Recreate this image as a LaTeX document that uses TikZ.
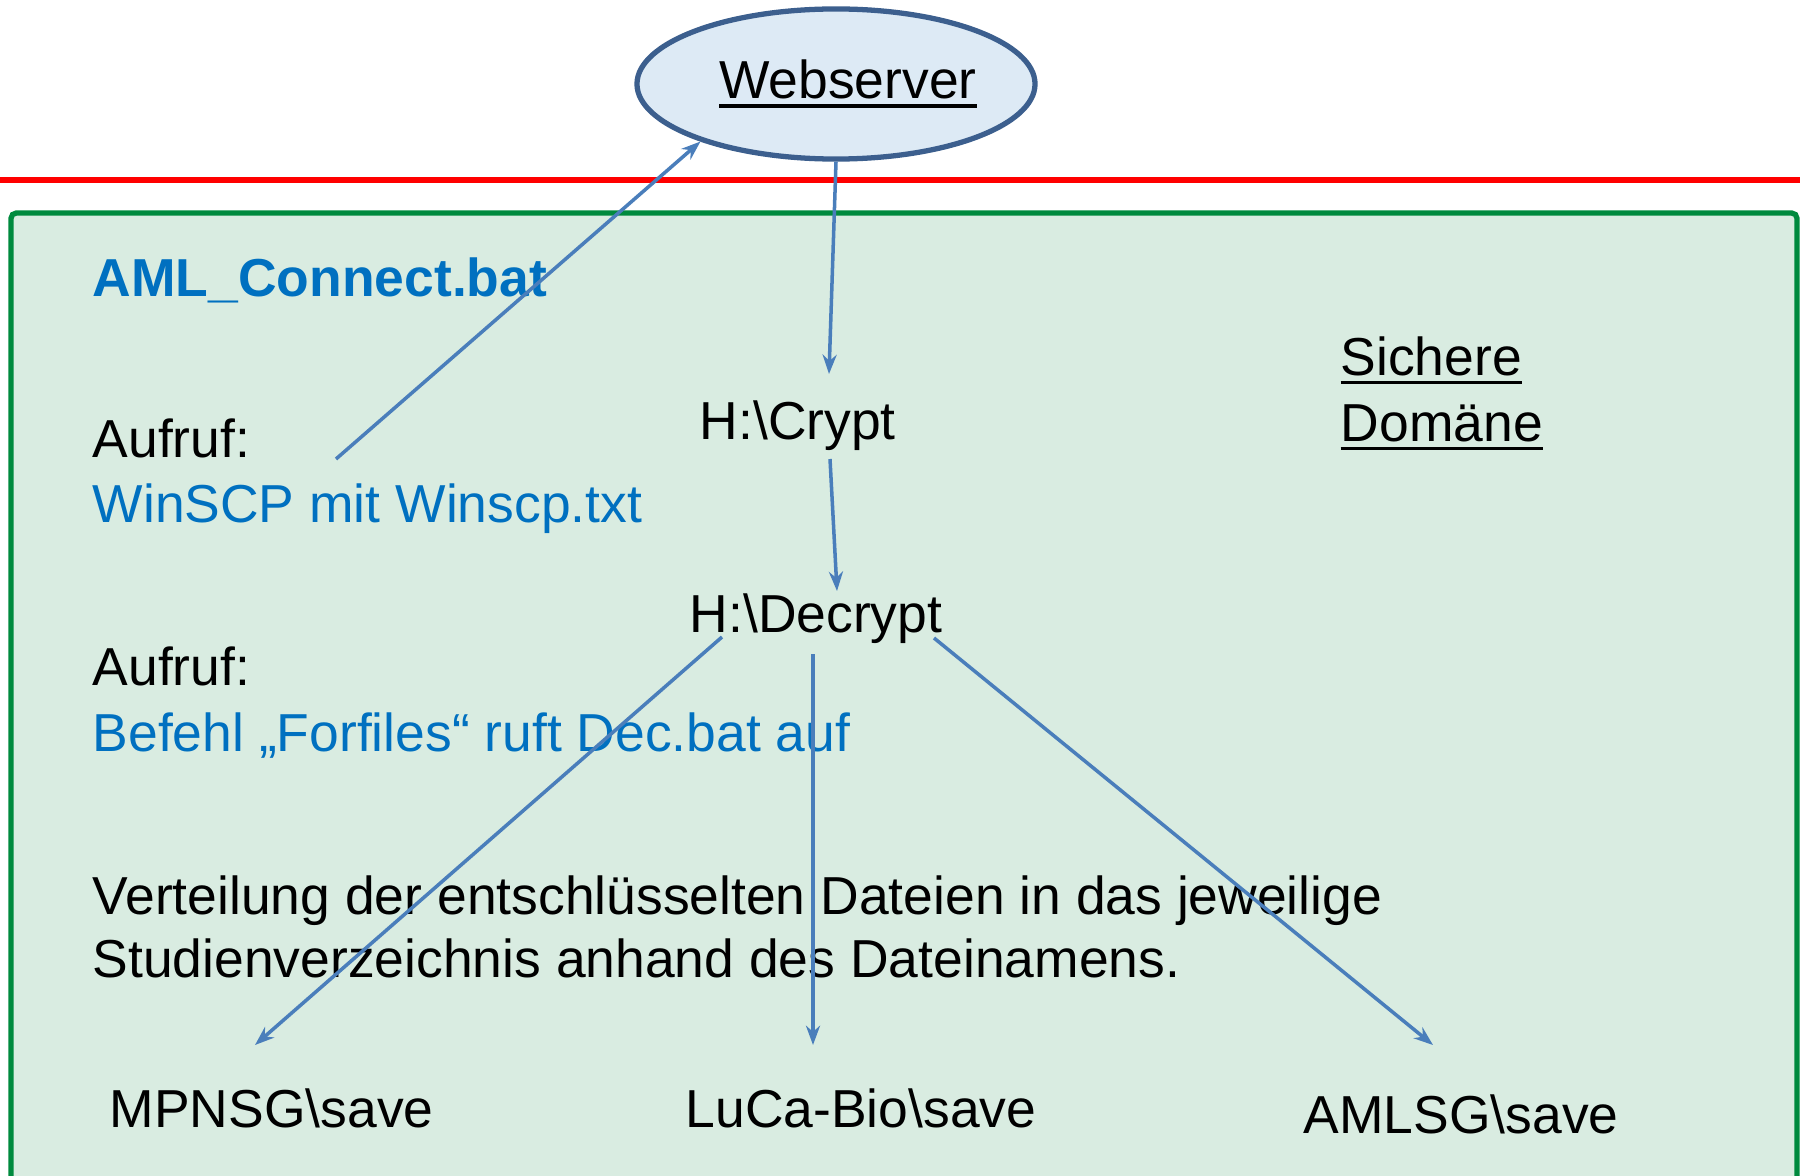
\documentclass[tikz,border=0pt]{standalone}
\usepackage{fontspec}
\setmainfont{Liberation Sans}
\usetikzlibrary{arrows.meta,shapes.geometric}
\definecolor{textblue}{HTML}{0070C0}
\definecolor{arrowblue}{HTML}{4A7EBB}
\definecolor{serverline}{HTML}{3C5F8E}
\definecolor{serverfill}{HTML}{DDEAF5}
\definecolor{zonegreen}{HTML}{008A3E}
\definecolor{zonefill}{HTML}{D9ECE1}
\newcommand{\ulined}[1]{\setbox0\hbox{#1}\rlap{\rule[-2.7pt]{\wd0}{1.1pt}}\box0}
\tikzset{
  plain/.style={anchor=base west,inner sep=0pt,font=\fontsize{15.2}{18}\selectfont},
  bluetext/.style={plain,text=textblue},
  flow/.style={-{Stealth[length=5.5pt,width=4pt]},draw=arrowblue,line width=1pt},
  server/.style={ellipse,draw=serverline,fill=serverfill,line width=1.5pt,
    minimum width=3.95cm,minimum height=1.5cm,inner sep=0pt,font=\fontsize{15.2}{18}\selectfont}
}

\begin{document}
\begin{tikzpicture}[x=0.01cm,y=-0.01cm]
  \useasboundingbox (0,0) rectangle (1800,1176);
  % secure domain
  \fill[zonefill] (11,1180) -- (11,213) -- (1797,213) -- (1797,1180) -- cycle;
  \draw[zonegreen,line width=1.5pt,rounded corners=1.5pt] (11,1180) -- (11,213) -- (1797,213) -- (1797,1180);
  \draw[red,line width=1.6pt] (0,180) -- (1800,180);

  \node[server] (web) at (836,84) {\hspace{0.24cm}\ulined{Webserver}};

  \node[bluetext,font=\fontsize{15.2}{18}\selectfont\bfseries] (amlconnect) at (92,297) {AML\_Connect.bat};
  \node[plain] (aufruf1) at (92,457) {Aufruf:};
  \node[bluetext] (winscp) at (92,522) {WinSCP mit Winscp.txt};
  \node[plain] (crypt) at (699,439) {H:\textbackslash Crypt};
  \node[plain] (sichere) at (1340,375) {\ulined{Sichere}};
  \node[plain] (domaene) at (1340,441) {\ulined{Domäne}};
  \node[plain] (decrypt) at (689,632) {H:\textbackslash Decrypt};
  \node[plain] (aufruf2) at (92,685) {Aufruf:};
  \node[bluetext] (forfiles) at (92,751) {Befehl „Forfiles“ ruft Dec.bat auf};
  \node[plain] (verteil1) at (92,914) {Verteilung der entschlüsselten Dateien in das jeweilige};
  \node[plain] (verteil2) at (92,977) {Studienverzeichnis anhand des Dateinamens.};
  \node[plain] (mpnsg) at (109,1127) {MPNSG\textbackslash save};
  \node[plain] (lucabio) at (685,1127) {LuCa-Bio\textbackslash save};
  \node[plain] (amlsg) at (1303,1133) {AMLSG\textbackslash save};

  % arrow ends
  \coordinate (upload) at (336,459);
  \coordinate (cryptin) at (829,374);
  \coordinate (cryptout) at (830,459);
  \coordinate (decryptin) at (837,591);
  \coordinate (decleft) at (722,637);
  \coordinate (decmid) at (813,654);
  \coordinate (decright) at (934,638);
  \coordinate (mpnsgin) at (255,1045);
  \coordinate (lucain) at (813,1045);
  \coordinate (amlsgin) at (1433,1045);

  \draw[flow] (upload) -- (web.-157);
  \draw[flow] (web.south) -- (cryptin);
  \draw[flow] (cryptout) -- (decryptin);
  \draw[flow] (decleft) -- (mpnsgin);
  \draw[flow] (decmid) -- (lucain);
  \draw[flow] (decright) -- (amlsgin);
\end{tikzpicture}
\end{document}
